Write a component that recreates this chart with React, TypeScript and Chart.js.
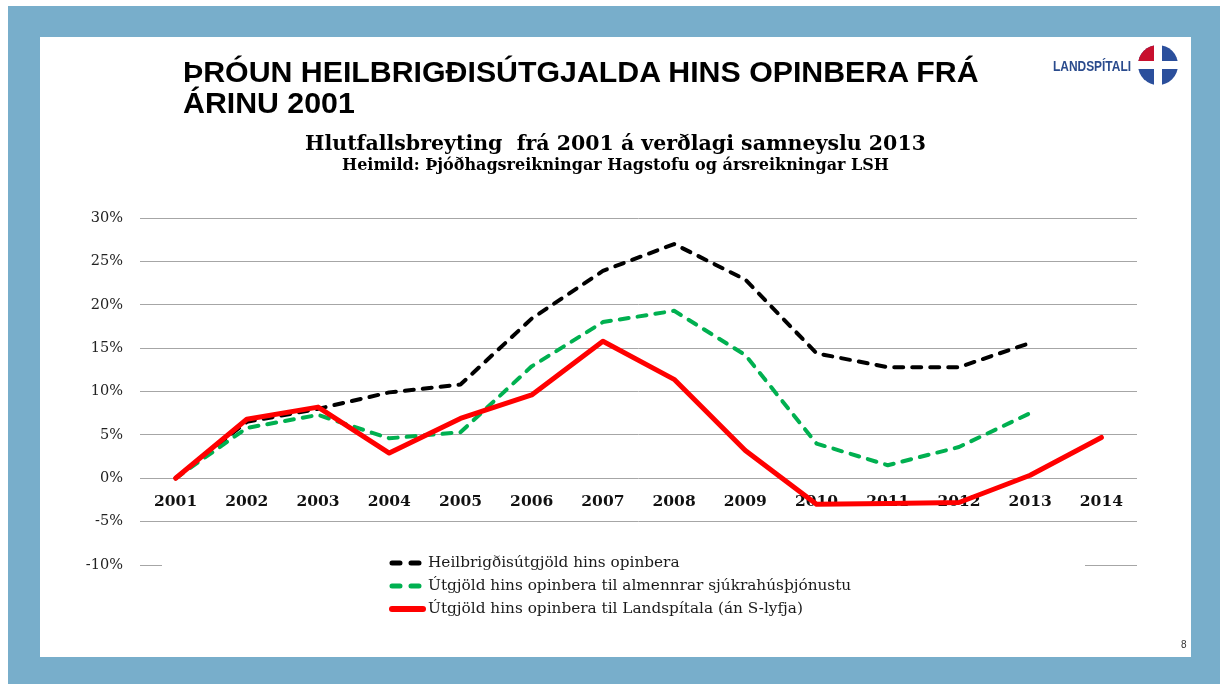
import React, { useEffect, useRef } from "react";
import { Chart, registerables } from "chart.js";

Chart.register(...registerables);

const years = ["2001", "2002", "2003", "2004", "2005", "2006", "2007", "2008", "2009", "2010", "2011", "2012", "2013", "2014"];
const healthPublic = [0, 6.5, 8.0, 9.9, 10.8, 18.4, 23.9, 27.0, 22.9, 14.4, 12.8, 12.8, 15.6, null];
const hospitalServices = [0, 5.8, 7.3, 4.6, 5.3, 12.9, 18.0, 19.3, 14.2, 4.0, 1.5, 3.6, 7.5, null];
const landspitali = [0, 6.8, 8.2, 2.9, 6.9, 9.6, 15.8, 11.4, 3.2, -3.0, -2.9, -2.8, 0.35, 4.7];
const yTickValues = [-10, -5, 0, 5, 10, 15, 20, 25, 30];
const seriesLabels = [
  "Heilbrigðisútgjöld hins opinbera",
  "Útgjöld hins opinbera til almennrar sjúkrahúsþjónustu",
  "Útgjöld hins opinbera til Landspítala (án S-lyfja)",
];
const chartTitle = "Hlutfallsbreyting  frá 2001 á verðlagi samneyslu 2013";
const chartSubtitle = "Heimild: Þjóðhagsreikningar Hagstofu og ársreikningar LSH";

const SERIF = "'DejaVu Serif', serif";

const slideLegend = {
  id: "slideLegend",
  afterDraw(chart: any) {
    const ctx = chart.ctx as CanvasRenderingContext2D;
    const area = chart.chartArea;
    const yBottom = chart.scales.y.getPixelForValue(-10);
    ctx.save();
    ctx.fillStyle = "#ffffff";
    ctx.fillRect(area.left + 22, yBottom - 3, 923, 90);
    const rows = [yBottom - 2, yBottom + 21, yBottom + 44];
    chart.data.datasets.forEach((ds: any, i: number) => {
      const ry = rows[i];
      ctx.strokeStyle = ds.borderColor;
      ctx.lineCap = "round";
      if (ds.borderDash && ds.borderDash.length) {
        ctx.lineWidth = 5;
        ctx.setLineDash([8, 11]);
        ctx.beginPath();
        ctx.moveTo(352, ry);
        ctx.lineTo(382, ry);
        ctx.stroke();
      } else {
        ctx.lineWidth = 6;
        ctx.setLineDash([]);
        ctx.beginPath();
        ctx.moveTo(352, ry);
        ctx.lineTo(383, ry);
        ctx.stroke();
      }
      ctx.setLineDash([]);
      ctx.fillStyle = "#1a1a1a";
      ctx.font = `15.3px ${SERIF}`;
      ctx.textBaseline = "middle";
      ctx.textAlign = "left";
      ctx.fillText(ds.label, 388, ry);
    });
    ctx.restore();
  },
};

export default function App() {
  const canvasRef = useRef<HTMLCanvasElement | null>(null);

  useEffect(() => {
    if (!canvasRef.current) return;
    const chart = new Chart(canvasRef.current, {
      type: "line",
      data: {
        labels: years,
        datasets: [
          {
            label: seriesLabels[0],
            data: healthPublic,
            borderColor: "#000000",
            backgroundColor: "#000000",
            borderWidth: 4,
            borderDash: [9, 9],
            borderCapStyle: "round",
            borderJoinStyle: "round",
            pointRadius: 0,
            tension: 0,
            order: 3,
          },
          {
            label: seriesLabels[1],
            data: hospitalServices,
            borderColor: "#00b050",
            backgroundColor: "#00b050",
            borderWidth: 4,
            borderDash: [9, 9],
            borderCapStyle: "round",
            borderJoinStyle: "round",
            pointRadius: 0,
            tension: 0,
            order: 2,
          },
          {
            label: seriesLabels[2],
            data: landspitali,
            borderColor: "#ff0000",
            backgroundColor: "#ff0000",
            borderWidth: 5,
            borderCapStyle: "round",
            borderJoinStyle: "round",
            pointRadius: 0,
            tension: 0,
            order: 1,
          },
        ],
      },
      options: {
        responsive: false,
        animation: false,
        layout: { padding: { top: 0, left: 0, right: 0, bottom: 92 } },
        plugins: {
          legend: { display: false },
          tooltip: { enabled: false },
          title: {
            display: true,
            text: chartTitle,
            color: "#000",
            font: { family: SERIF, size: 20.5, weight: "bold" },
            padding: { top: 95, bottom: 0 },
          },
          subtitle: {
            display: true,
            text: chartSubtitle,
            color: "#000",
            font: { family: SERIF, size: 16, weight: "bold" },
            padding: { top: 0, bottom: 42.2 },
          },
        },
        scales: {
          x: {
            type: "category",
            position: { y: 0 } as any,
            offset: true,
            grid: { display: false, drawTicks: false },
            border: { display: false },
            ticks: {
              color: "#111",
              font: { family: SERIF, size: 15.5, weight: "bold" },
              padding: 14,
              maxRotation: 0,
              autoSkip: false,
            },
            afterFit: (s: any) => {
              s.height = 0;
            },
          },
          y: {
            min: -10,
            max: 30,
            grid: { color: "#a6a6a6", lineWidth: 1, drawTicks: false },
            border: { display: false },
            ticks: {
              color: "#222",
              font: { family: SERIF, size: 14.5 },
              padding: 17,
              callback: (v: any) => `${v}%`,
            },
            afterBuildTicks: (s: any) => {
              s.ticks = yTickValues.map((v) => ({ value: v }));
            },
            afterFit: (s: any) => {
              s.width = 100;
            },
          },
          ySpacer: {
            type: "linear",
            position: "right",
            display: true,
            grid: { display: false, drawTicks: false },
            border: { display: false },
            ticks: { display: false },
            afterFit: (s: any) => {
              s.width = 54;
            },
          },
        },
      },
      plugins: [slideLegend],
    });
    return () => chart.destroy();
  }, []);

  return (
    <div style={{ position: "fixed", left: 0, top: 0, width: 1220, height: 684, background: "#fff", overflow: "hidden" }}>
      <div style={{ position: "absolute", left: 8, top: 6, right: 0, bottom: 0, background: "#78aecb" }} />
      <div style={{ position: "absolute", left: 40, top: 37, width: 1151, height: 620, background: "#fff" }}>
        <canvas ref={canvasRef} width={1151} height={620} style={{ display: "block" }} />
      </div>
      <div
        style={{
          position: "absolute",
          left: 183,
          top: 56,
          width: 880,
          fontFamily: "'Liberation Sans', Arial, sans-serif",
          fontWeight: "bold",
          fontSize: 30.3,
          lineHeight: "31px",
          color: "#000",
        }}
      >
        ÞRÓUN HEILBRIGÐISÚTGJALDA HINS OPINBERA FRÁ
        <br />
        ÁRINU 2001
      </div>
      <svg style={{ position: "absolute", left: 0, top: 0 }} width={1220} height={684}>
        <text
          x={1053}
          y={71}
          textLength={78}
          lengthAdjust="spacingAndGlyphs"
          fontFamily="'Liberation Sans Narrow', 'Liberation Sans', Arial, sans-serif"
          fontWeight="bold"
          fontSize={14}
          fill="#2a4b8d"
        >
          LANDSPÍTALI
        </text>
        <circle cx={1158} cy={65} r={20} fill="#2b4f9c" />
        <path d="M1158 65 L1138 65 A20 20 0 0 1 1158 45 Z" fill="#c8102e" />
        <rect x={1154} y={44} width={8} height={42} fill="#fff" />
        <rect x={1137} y={61} width={42} height={8} fill="#fff" />
        <text x={1181} y={648} fontFamily="'Liberation Sans', Arial, sans-serif" fontSize={10} fill="#333">
          8
        </text>
      </svg>
    </div>
  );
}
